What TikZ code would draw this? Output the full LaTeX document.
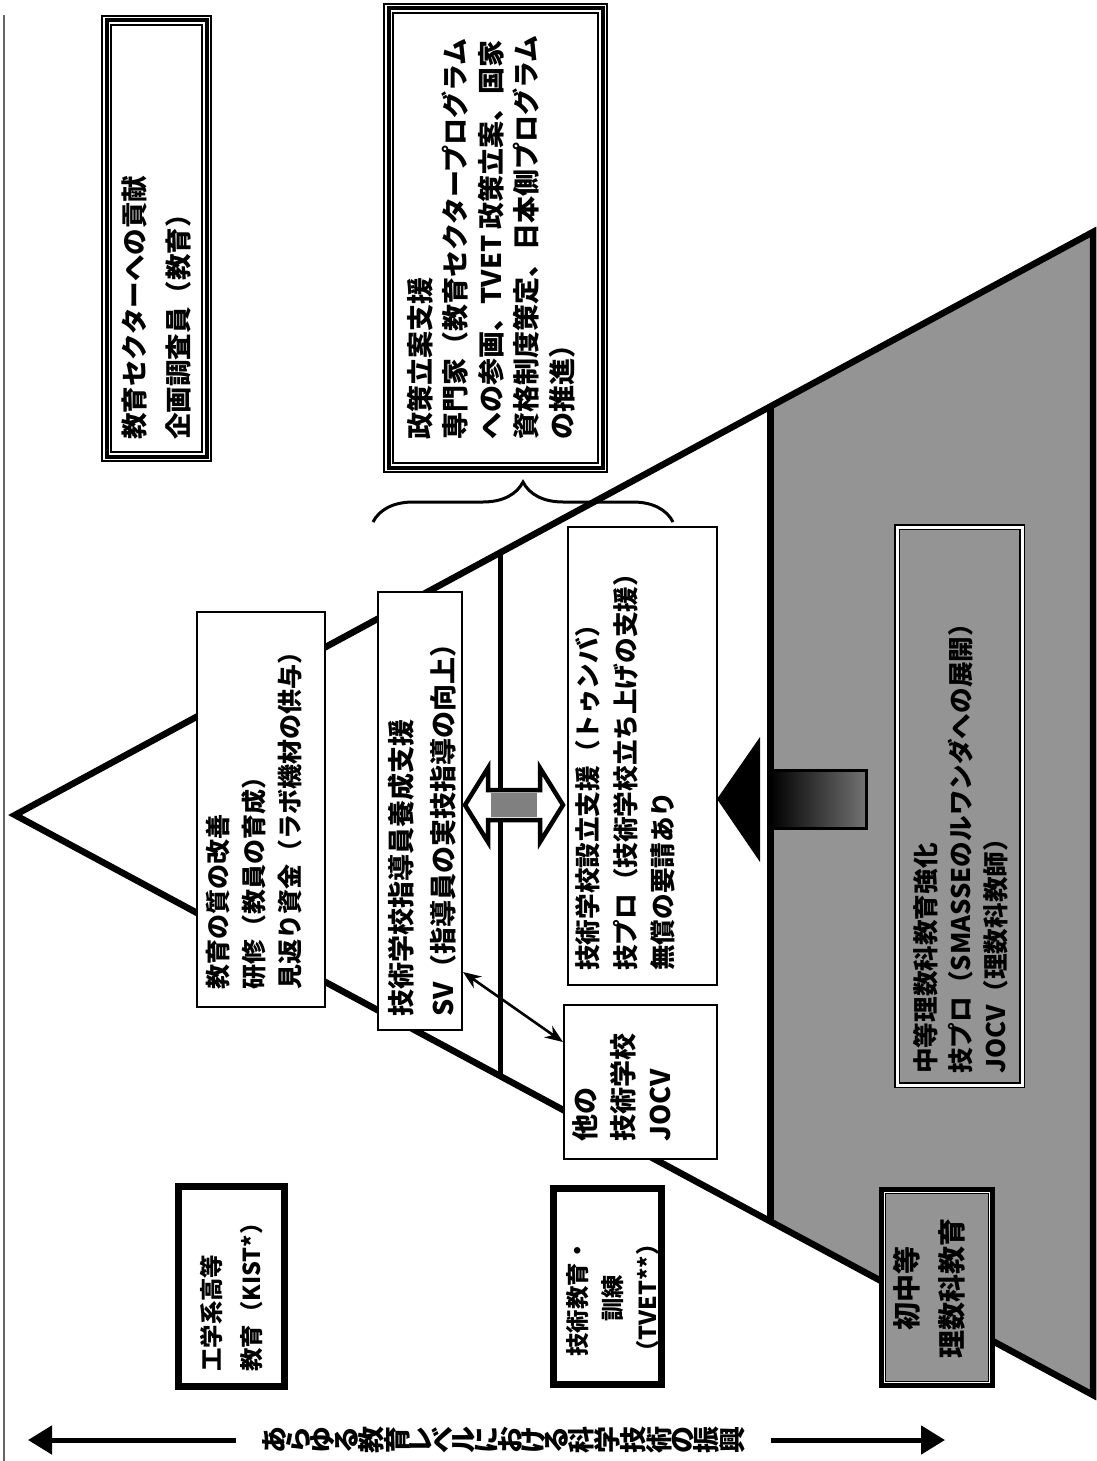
\documentclass[tikz,border=0pt]{standalone}
\usepackage{fontspec}
\usepackage{graphicx}
\setmainfont{Noto Sans CJK JP}
\usetikzlibrary{arrows.meta,calc,decorations.pathreplacing}
\makeatletter
\newcommand\vchars[1]{\@tfor\vc@h:=#1\do{\rotatebox{90}{\vc@h}}}
\makeatother
\newcommand\fs[2]{\fontsize{#1}{#2}\selectfont\bfseries}
\begin{document}
\begin{tikzpicture}[x=0.5pt,y=-0.5pt,
  tri/.style={line width=3.25pt, line join=miter},
  wbox/.style={draw, line width=1pt, fill=white, inner sep=0pt},
  triplebox/.style={preaction={draw, line width=5.5pt}, preaction={draw=white, line width=3.5pt}, draw, line width=2pt, inner sep=0pt},
  heavybox/.style={draw, line width=3.5pt, inner sep=0pt},
  dblbox/.style={draw, line width=0.75pt, double=white, double distance=1.5pt, inner sep=0pt},
  vt/.style={rotate=90, anchor=west, align=left, inner sep=0pt},
  vc/.style={rotate=90, anchor=center, align=center, inner sep=0pt},
  shadefill/.style={fill=black!42},
]
\useasboundingbox (0,0) rectangle (1097,1461);
\draw[black!60, line width=0.75pt] (4,15) -- (4,1461);

% pyramid
\coordinate (apex) at (15,815);
\coordinate (tr) at (1093,232);
\coordinate (br) at (1093,1395);
\coordinate (u1) at ($(apex)!0.4499!(tr)$);
\coordinate (l1) at ($(apex)!0.4499!(br)$);
\coordinate (u2) at ($(apex)!0.7004!(tr)$);
\coordinate (l2) at ($(apex)!0.7004!(br)$);
\fill[shadefill] (u2) -- (tr) -- (br) -- (l2) -- cycle;
\draw[tri] (apex) -- (tr) -- (br) -- cycle;
\draw[line width=2.5pt] (u1) -- (l1);
\draw[line width=3.5pt] (u2) -- (l2);

% top boxes
\node[triplebox, minimum width=50pt, minimum height=218pt] (goal) at (156.5,238.5) {};
\node[vt, font=\fs{13.25}{22}] (goalT) at (157,440) {教育セクターへの貢献\\企画調査員（教育）};
\node[triplebox, minimum width=107pt, minimum height=229.5pt] (policy) at (495.5,238) {};
\node[vt, font=\fs{13.5}{17.75}] (policyT) at (491,440) {政策立案支援\\専門家（教育セクタープログラム\\への参画、TVET 政策立案、国家\\資格制度策定、日本側プログラム\\の推進）};
\coordinate (brL) at (373,522);
\coordinate (brR) at (673,522);
\draw[line width=1.5pt, decorate, decoration={brace, amplitude=20pt}] (brL) -- (brR);

% inner boxes
\node[wbox, minimum width=64pt, minimum height=197.5pt] (quality) at (261,809.5) {};
\node[vt, font=\fs{12.5}{18}] (qualityT) at (254,990) {教育の質の改善\\研修（教員の育成）\\見返り資金（ラボ機材の供与）};
\node[wbox, minimum width=42pt, minimum height=219pt] (sv) at (420,811) {};
\node[vt, font=\fs{13.5}{21}] (svT) at (422,1017) {技術学校指導員養成支援\\SV（指導員の実技指導の向上）};
\node[wbox, minimum width=74.5pt, minimum height=229pt] (estab) at (642.5,756) {};
\node[vt, font=\fs{12.8}{18.75}] (estabT) at (625.5,971) {技術学校設立支援（トゥンバ）\\技プロ（技術学校立ち上げの支援）\\無償の要請あり};
\node[wbox, minimum width=76.5pt, minimum height=77pt] (jocv) at (640.5,1082) {};
\node[vt, font=\fs{13.5}{18.75}] (jocvT) at (622,1142) {他の\\技術学校\\JOCV};
\node[dblbox, minimum width=62.5pt, minimum height=279pt] (smasse) at (959.5,806) {};
\node[vt, font=\fs{12.8}{17.5}] (smasseT) at (961,1074) {中等理数科教育強化\\技プロ（SMASSEのルワンダへの展開）\\JOCV（理数科教師）};

% connectors
\draw[line width=2.25pt, fill=white, line join=miter] (465,805) -- (488,768) -- (488,790) -- (540,790) -- (540,768) -- (563,805) -- (540,842) -- (540,820) -- (488,820) -- (488,842) -- cycle;
\fill[black!50] (491,793) rectangle (537,817);
\draw[line width=1.3pt, {Stealth[length=9pt,width=7pt]}-{Stealth[length=9pt,width=7pt]}] ([yshift=-80.5pt]sv.east) -- ([yshift=20pt]jocv.west);
\draw[line width=1.5pt, left color=black, right color=black!55] (770,770) rectangle (866,828);
\fill (717,799) -- (760,737) -- (760,862) -- cycle;

% bottom boxes
\node[heavybox, fill=white, minimum width=53pt, minimum height=100pt] (kist) at (231.5,1286.5) {};
\node[vt, font=\fs{11.7}{20}] (kistT) at (232,1372) {工学系高等\\教育（KIST*）};
\node[heavybox, fill=white, minimum width=54pt, minimum height=98pt] (tvet) at (607.5,1286.5) {};
\node[vc, font=\fs{11.7}{17.5}] (tvetT) at (613,1298) {技術教育・\\訓練\\（TVET**）};
\node[heavybox, fill=black!42, minimum width=54.5pt, minimum height=97pt] (prim) at (937,1287.5) {};
\draw[white, line width=0.6pt] ([shift={(2.6pt,-2.6pt)}]prim.north west) rectangle ([shift={(-2.6pt,2.6pt)}]prim.south east);
\node[vc, font=\fs{14}{22.5}] (primT) at (929.5,1288) {初中等\\理数科教育};

% bottom arrow
\node[font=\fs{13.5}{13.5}, inner xsep=13pt, inner ysep=0pt] (motto) at (503.5,1440) {\vchars{あらゆる教育レベルにおける科学技術の振興}};
\coordinate (mL) at (28,1440);
\coordinate (mR) at (945,1440);
\draw[line width=2.5pt, -{Triangle[length=12pt,width=14pt]}] (motto.west) -- (mL);
\draw[line width=2.5pt, -{Triangle[length=12pt,width=14pt]}] (motto.east) -- (mR);
\end{tikzpicture}
\end{document}
